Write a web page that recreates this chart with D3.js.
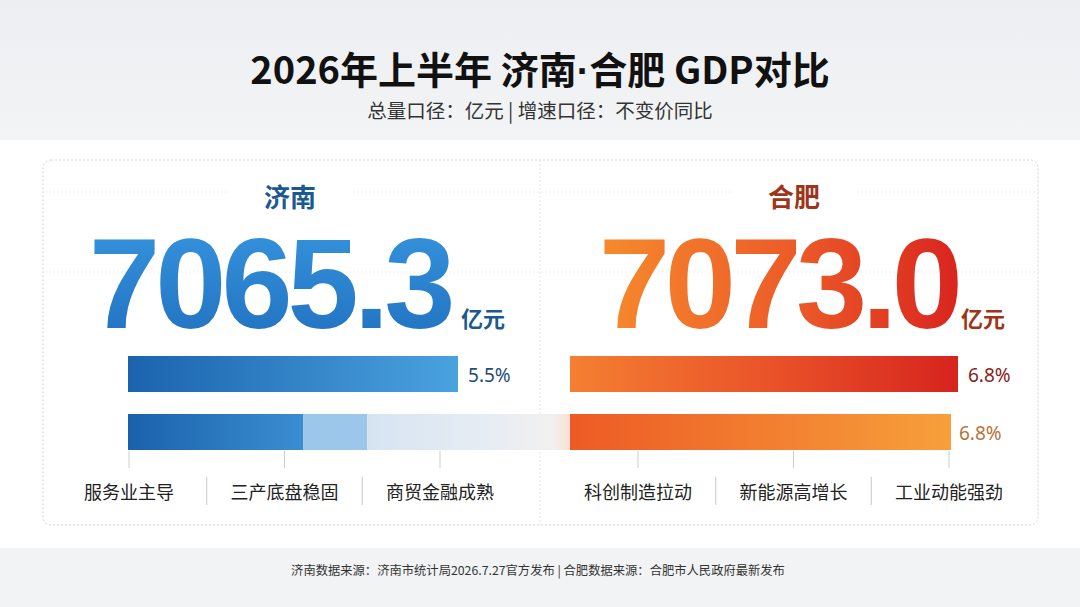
<!DOCTYPE html>
<html>
<head>
<meta charset="utf-8">
<script src="https://cdn.jsdelivr.net/npm/d3@7/dist/d3.min.js"></script>
<style>
  html, body { margin: 0; padding: 0; background: #f4f5f7; }
  svg { display: block; }
</style>
</head>
<body>
<svg id="chart" width="1080" height="607"></svg>
<script>
'use strict';

// ---- data ----
const cities = ['济南', '合肥'];
const gdpTotals = [7065.3, 7073.0];           // 亿元
const growthMain = [5.5, 6.8];                 // 增速 %, first bar
const growthSecond = [null, 6.8];              // second bar label (济南 none)
const jinanMixShares = [0.41, 0.15, 0.44];     // 济南 second bar segments
const jinanTags = ['服务业主导', '三产底盘稳固', '商贸金融成熟'];
const hefeiTags = ['科创制造拉动', '新能源高增长', '工业动能强劲'];
const titleParts = ['2026年上半年 济南', '·', '合肥 GDP对比'];
const subtitleText = '总量口径：亿元 | 增速口径：不变价同比';
const footerText = '济南数据来源：济南市统计局2026.7.27官方发布 | 合肥数据来源：合肥市人民政府最新发布';

const W = 1080, H = 607;
const cjk = '"Noto Sans CJK SC", "Noto Sans", sans-serif';
const numFont = '"Liberation Sans", Arial, sans-serif';

const svg = d3.select('#chart');
const defs = svg.append('defs');

const addGradient = (id, stops, attrs) => {
  const g = defs.append('linearGradient').attr('id', id);
  Object.entries(attrs || {}).forEach(([k, v]) => g.attr(k, v));
  stops.forEach(([off, col, op]) => {
    g.append('stop').attr('offset', off).attr('stop-color', col).attr('stop-opacity', op == null ? 1 : op);
  });
  return `url(#${id})`;
};

const headerFill = addGradient('hdr', [[0, '#eceef1'], [1, '#f3f4f6']], { x1: 0, y1: 0, x2: 0, y2: 1 });
const numBlue = addGradient('numBlue', [[0, '#3896df'], [1, '#1f6fbe']], { x1: 0, y1: 0, x2: 0, y2: 1 });
const numOrange = addGradient('numOrange', [[0, '#f68a2c'], [0.55, '#ec5a28'], [1, '#d9261f']],
  { gradientUnits: 'userSpaceOnUse', x1: 603, y1: 0, x2: 955, y2: 0 });
const barBlue = addGradient('barBlue', [[0, '#1b63ae'], [1, '#4aa2df']], { x1: 0, y1: 0, x2: 1, y2: 0 });
const barBlueDark = addGradient('barBlueDark', [[0, '#1a61ac'], [1, '#3a8ed0']], { x1: 0, y1: 0, x2: 1, y2: 0 });
const barFade = addGradient('barFade', [[0, '#d6e4f2'], [0.7, '#e8edf3'], [1, '#f3f1ef']], { x1: 0, y1: 0, x2: 1, y2: 0 });
const barRed = addGradient('barRed', [[0, '#f47f32'], [0.5, '#ea5429'], [1, '#d6241e']], { x1: 0, y1: 0, x2: 1, y2: 0 });
const barOrange = addGradient('barOrange', [[0, '#ed5a24'], [1, '#f7a03b']], { x1: 0, y1: 0, x2: 1, y2: 0 });
const fadeOrange = addGradient('fadeOrange', [[0, '#f3eee9'], [1, '#f6e2d6']], { x1: 0, y1: 0, x2: 1, y2: 0 });

// ---- background bands ----
svg.append('rect').attr('width', W).attr('height', 140).attr('fill', headerFill);
svg.append('rect').attr('y', 140).attr('width', W).attr('height', 408).attr('fill', '#ffffff');
svg.append('rect').attr('y', 548).attr('width', W).attr('height', H - 548).attr('fill', '#f2f3f5');

// ---- title ----
const title = svg.append('text')
  .attr('x', 540).attr('y', 84)
  .attr('text-anchor', 'middle')
  .style('font-family', cjk).style('font-weight', 700).style('font-size', '38px')
  .attr('fill', '#111');
title.selectAll('tspan')
  .data(titleParts)
  .join('tspan')
  .style('font-family', (d, i) => i === 1 ? '"Liberation Sans", sans-serif' : cjk)
  .text(d => d);

svg.append('text')
  .attr('x', 540).attr('y', 118)
  .attr('text-anchor', 'middle')
  .style('font-family', cjk).style('font-size', '19.5px')
  .attr('fill', '#333')
  .text(subtitleText);

// ---- card ----
const card = { x: 43, y: 160, w: 995, h: 365 };
svg.append('rect')
  .attr('x', card.x).attr('y', card.y).attr('width', card.w).attr('height', card.h)
  .attr('rx', 8)
  .attr('fill', '#fff')
  .attr('stroke', '#d3d6da').attr('stroke-dasharray', '2,2');

svg.append('line')
  .attr('x1', 540).attr('x2', 540).attr('y1', card.y).attr('y2', card.y + card.h)
  .attr('stroke', '#e2e4e7').attr('stroke-dasharray', '2,2');

[192, 272].forEach(y => {
  svg.append('line')
    .attr('x1', card.x + 2).attr('x2', card.x + card.w - 2).attr('y1', y).attr('y2', y)
    .attr('stroke', '#eceef0').attr('stroke-dasharray', '2,2');
});

// ---- panels ----
const panels = [
  { name: cities[0], total: gdpTotals[0], cx: 290, numX: 89, spacing: -5, unitX: 461,
    numFill: numBlue, nameColor: '#1b5a91', barX: 128, tags: jinanTags, tagRange: [129, 440],
    topFill: barBlue, pctColor: '#1f4d78' },
  { name: cities[1], total: gdpTotals[1], cx: 794, numX: 599, spacing: -5.5, unitX: 961,
    numFill: numOrange, nameColor: '#9e3418', barX: 570, tags: hefeiTags, tagRange: [638, 949],
    topFill: barRed, pctColor: '#8a1c1c' }
];

// bar length scale (infographic baseline below zero)
const x = d3.scaleLinear().domain([-1.9, 6.8]).range([0, 388]);
const mix = d3.scaleLinear().domain([0, 1]).range([128, 555]);

const barH = 36;
const rowY = [356, 414];

panels.forEach((p, i) => {
  const g = svg.append('g');

  g.append('rect')
    .attr('x', p.cx - 62).attr('y', 182).attr('width', 124).attr('height', 22)
    .attr('fill', '#fff');
  g.append('text')
    .attr('x', p.cx).attr('y', 207)
    .attr('text-anchor', 'middle')
    .style('font-family', cjk).style('font-weight', 700).style('font-size', '26px')
    .attr('fill', p.nameColor)
    .text(p.name);

  g.append('text')
    .attr('x', p.numX).attr('y', 328)
    .style('font-family', numFont).style('font-weight', 700).style('font-size', '128px')
    .style('letter-spacing', p.spacing + 'px')
    .attr('fill', p.numFill)
    .text(d3.format('.1f')(p.total));

  g.append('text')
    .attr('x', p.unitX).attr('y', 327)
    .style('font-family', cjk).style('font-weight', 700).style('font-size', '22px')
    .attr('fill', p.nameColor)
    .text('亿元');

  // first bar
  const w1 = x(growthMain[i]);
  g.append('rect')
    .attr('x', p.barX).attr('y', rowY[0]).attr('width', w1).attr('height', barH)
    .attr('fill', p.topFill);
  g.append('text')
    .attr('x', p.barX + w1 + 10).attr('y', rowY[0] + 26)
    .style('font-family', '"Noto Sans", sans-serif').style('font-size', '19px')
    .attr('fill', p.pctColor)
    .text(growthMain[i] + '%');

  // second bar
  if (growthSecond[i] == null) {
    const bounds = d3.cumsum([0].concat(jinanMixShares));
    const fills = [barBlueDark, '#9dc7ea', barFade];
    jinanMixShares.forEach((s, k) => {
      g.append('rect')
        .attr('x', mix(bounds[k])).attr('y', rowY[1])
        .attr('width', mix(bounds[k + 1]) - mix(bounds[k])).attr('height', barH)
        .attr('fill', fills[k]);
    });
  } else {
    g.append('rect')
      .attr('x', 555).attr('y', rowY[1]).attr('width', p.barX - 555).attr('height', barH)
      .attr('fill', fadeOrange);
    const w2 = x(growthSecond[i]) - 7;
    g.append('rect')
      .attr('x', p.barX).attr('y', rowY[1]).attr('width', w2).attr('height', barH)
      .attr('fill', barOrange);
    g.append('text')
      .attr('x', p.barX + w2 + 8).attr('y', rowY[1] + 26)
      .style('font-family', '"Noto Sans", sans-serif').style('font-size', '19px')
      .attr('fill', '#b5733a')
      .text(growthSecond[i] + '%');
  }

  // tags with ticks and separators
  const pt = d3.scalePoint().domain(p.tags).range(p.tagRange);
  p.tags.forEach((t, k) => {
    const tx = pt(t);
    g.append('line')
      .attr('x1', tx).attr('x2', tx).attr('y1', 451).attr('y2', 468)
      .attr('stroke', '#c9ccd0');
    g.append('text')
      .attr('x', tx).attr('y', 499)
      .attr('text-anchor', 'middle')
      .style('font-family', cjk).style('font-size', '18px')
      .attr('fill', '#222')
      .text(t);
    if (k > 0) {
      const sx = (pt(p.tags[k - 1]) + tx) / 2;
      g.append('line')
        .attr('x1', sx).attr('x2', sx).attr('y1', 477).attr('y2', 505)
        .attr('stroke', '#c4c7cb');
    }
  });
});

// ---- footer ----
svg.append('text')
  .attr('x', 538).attr('y', 575)
  .attr('text-anchor', 'middle')
  .style('font-family', cjk).style('font-size', '12.3px')
  .attr('fill', '#333')
  .text(footerText);
</script>
</body>
</html>
